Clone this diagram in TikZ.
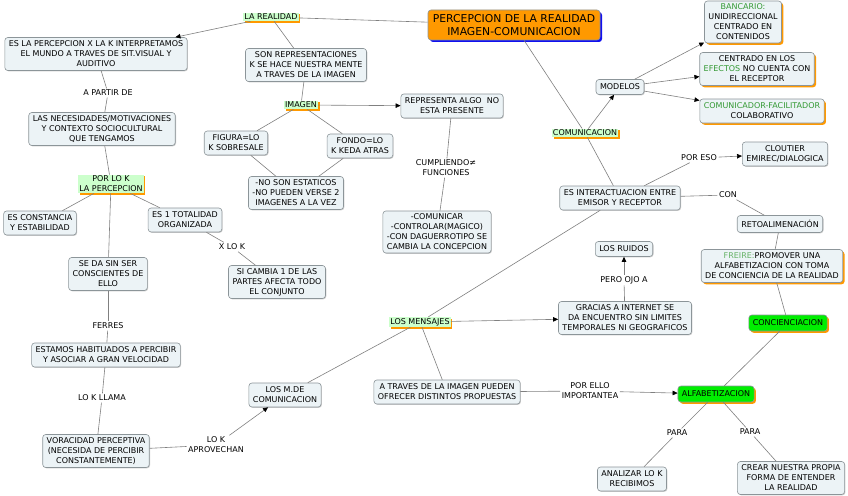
\documentclass[tikz,border=0pt]{standalone}
\usepackage{fontspec}
\setmainfont{DejaVu Sans}
\usetikzlibrary{arrows.meta,shadows}
\definecolor{cfill}{HTML}{ECF3F6}
\definecolor{cborder}{HTML}{8C9599}
\definecolor{lnc}{HTML}{808080}
\definecolor{orangeS}{HTML}{FF9900}
\definecolor{titlefill}{HTML}{FF9900}
\definecolor{blueS}{HTML}{1010F0}
\definecolor{greenlab}{HTML}{CCFFCC}
\definecolor{greenbox}{HTML}{00EE00}
\definecolor{tg}{HTML}{339933}
\definecolor{tg2}{HTML}{66B266}
\newcommand\myfs{\fontsize{8}{10}\selectfont}
\tikzset{
  concept/.style={draw=cborder, fill=cfill, rounded corners=3pt, align=center, font=\myfs,
    inner xsep=4pt, inner ysep=2pt, line width=0.6pt,
    drop shadow={shadow xshift=0.8pt, shadow yshift=-0.8pt, fill=gray!40, opacity=1}},
  one/.style={minimum height=15pt},
  two/.style={minimum height=24pt},
  three/.style={minimum height=33pt},
  four/.style={minimum height=42pt},
  oshadow/.style={drop shadow={shadow xshift=1.8pt, shadow yshift=-1.8pt, fill=orangeS, opacity=1}},
  glabel/.style={fill=greenlab, align=center, font=\myfs, inner xsep=1pt, inner ysep=1.2pt,
    drop shadow={shadow xshift=1.6pt, shadow yshift=-1.6pt, fill=orangeS, opacity=1}},
  gbox/.style={draw=cborder, fill=greenbox, rounded corners=3pt, align=center, font=\myfs,
    inner xsep=4pt, inner ysep=2pt, minimum height=16pt, line width=0.6pt,
    drop shadow={shadow xshift=1.8pt, shadow yshift=-1.8pt, fill=orangeS, opacity=1}},
  link/.style={fill=white, align=center, font=\myfs, inner sep=1.5pt},
  ln/.style={draw=lnc, line width=0.6pt},
  arr/.style={ln, -{Triangle[length=5pt,width=4.5pt,color=black]}},
}
\begin{document}
\begin{tikzpicture}[x=1pt,y=-1pt]
\fill[white] (0,0) rectangle (848,495);
\useasboundingbox (0,0) rectangle (848,495);

% nodes
\node[draw=cborder, fill=titlefill, rounded corners=3pt, align=center,
  font=\fontsize{10.8}{13}\selectfont, inner xsep=4pt, minimum height=30pt, minimum width=172pt, line width=0.6pt,
  drop shadow={shadow xshift=2pt, shadow yshift=-2pt, fill=blueS, opacity=1}]
  (title) at (514,25) {PERCEPCION DE LA REALIDAD\\IMAGEN-COMUNICACION};
\node[glabel] (realidad) at (271,17) {LA REALIDAD};
\node[concept,three] (perc) at (96,54) {ES LA PERCEPCION X LA K INTERPRETAMOS\\EL MUNDO A TRAVES DE SIT.VISUAL Y\\AUDITIVO};
\node[concept,three] (sonrep) at (306,65) {SON REPRESENTACIONES\\K SE HACE NUESTRA MENTE\\A TRAVES DE LA IMAGEN};
\node[glabel] (imagen) at (301,105) {IMAGEN};
\node[concept,two] (representa) at (452,106) {REPRESENTA ALGO\ \ NO\\ESTA PRESENTE};
\node[concept,two] (figura) at (236,143) {FIGURA=LO\\K SOBRESALE};
\node[concept,two] (fondo) at (360,146) {FONDO=LO\\K KEDA ATRAS};
\node[concept,three] (noson) at (296,193) {-NO SON ESTATICOS\\-NO PUEDEN VERSE 2\\IMAGENES A LA VEZ};
\node[link] (cumpl) at (446,168) {CUMPLIENDO≠\\FUNCIONES};
\node[concept,four] (comunicar) at (437,232) {-COMUNICAR\\-CONTROLAR(MAGICO)\\-CON DAGUERROTIPO SE\\CAMBIA LA CONCEPCION};
\node[link] (apartir) at (108,93) {A PARTIR DE};
\node[concept,three] (necesid) at (102,129) {LAS NECESIDADES/MOTIVACIONES\\Y CONTEXTO SOCIOCULTURAL\\QUE TENGAMOS};
\node[glabel] (porlok) at (111,184) {POR LO K\\LA PERCEPCION};
\node[concept,two] (constancia) at (40,223) {ES CONSTANCIA\\Y ESTABILIDAD};
\node[concept,two] (totalidad) at (185,220) {ES 1 TOTALIDAD\\ORGANIZADA};
\node[link] (xlok) at (232,247) {X LO K};
\node[concept,three] (sicambia) at (277,282) {SI CAMBIA 1 DE LAS\\PARTES AFECTA TODO\\EL CONJUNTO};
\node[concept,three] (sedasin) at (108,274) {SE DA SIN SER\\CONSCIENTES DE\\ELLO};
\node[link] (ferres) at (108,326) {FERRES};
\node[concept,two] (estamos) at (106,355) {ESTAMOS HABITUADOS A PERCIBIR\\Y ASOCIAR A GRAN VELOCIDAD};
\node[link] (lokllama) at (102,398) {LO K LLAMA};
\node[concept,three] (voracidad) at (96,451) {VORACIDAD PERCEPTIVA\\(NECESIDA DE PERCIBIR\\CONSTANTEMENTE)};
\node[link] (aprovechan) at (216,445) {LO K\\APROVECHAN};
\node[concept,two] (mdecom) at (285,395) {LOS M.DE\\COMUNICACION};
\node[glabel] (mensajes) at (420,322) {LOS MENSAJES};
\node[concept,two] (atraves) at (447,392) {A TRAVES DE LA IMAGEN PUEDEN\\OFRECER DISTINTOS PROPUESTAS};
\node[link] (porello) at (590,391) {POR ELLO\\IMPORTANTEA};
\node[gbox] (alfa) at (716,394) {ALFABETIZACION};
\node[link] (para1) at (677,433) {PARA};
\node[link] (para2) at (750,432) {PARA};
\node[concept,two] (analizar) at (632,479) {ANALIZAR LO K\\RECIBIMOS};
\node[concept,three] (crear) at (791,478) {CREAR NUESTRA PROPIA\\FORMA DE ENTENDER\\LA REALIDAD};
\node[gbox] (concien) at (788,323) {CONCIENCIACION};
\node[concept,three,oshadow] (freire) at (772,266) {\textcolor{tg2}{FREIRE:}PROMOVER UNA\\ALFABETIZACION CON TOMA\\DE CONCIENCIA DE LA REALIDAD};
\node[concept,one,minimum height=17pt] (retro) at (780,224) {RETOALIMENACIÓN};
\node[link] (con) at (728,195) {CON};
\node[concept,two] (interac) at (620,198) {ES INTERACTUACION ENTRE\\EMISOR Y RECEPTOR};
\node[link] (poreso) at (699,158) {POR ESO};
\node[concept,two] (cloutier) at (785,154) {CLOUTIER\\EMIREC/DIALOGICA};
\node[glabel] (comunicacion) at (585,133) {COMUNICACION};
\node[concept,one] (modelos) at (620,87) {MODELOS};
\node[concept,four,oshadow] (bancario) at (743,22) {\textcolor{tg}{BANCARIO:}\\UNIDIRECCIONAL\\CENTRADO EN\\CONTENIDOS};
\node[concept,three,oshadow] (efectos) at (757,69) {CENTRADO EN LOS\\\textcolor{tg}{EFECTOS} NO CUENTA CON\\EL RECEPTOR};
\node[concept,two,oshadow] (facilitador) at (762,111) {\textcolor{tg}{COMUNICADOR-FACILITADOR}\\COLABORATIVO};
\node[concept,one] (ruidos) at (624,249) {LOS RUIDOS};
\node[link] (perojo) at (624,280) {PERO OJO A};
\node[concept,three] (gracias) at (625,318) {GRACIAS A INTERNET SE\\DA ENCUENTRO SIN LIMITES\\TEMPORALES NI GEOGRAFICOS};

% connectors
\draw[ln] (title) -- (realidad);
\draw[arr] (realidad) -- (perc);
\draw[ln] (realidad) -- (sonrep);
\draw[ln] (sonrep) -- (imagen);
\draw[arr] (imagen) -- (representa);
\draw[ln] (imagen) -- (figura);
\draw[ln] (imagen) -- (fondo);
\draw[ln] (figura) -- (noson);
\draw[ln] (fondo) -- (noson);
\draw[ln] (representa) -- (cumpl);
\draw[ln] (cumpl) -- (comunicar);
\draw[ln] (perc) -- (apartir);
\draw[ln] (apartir) -- (necesid);
\draw[ln] (necesid) -- (porlok);
\draw[ln] (porlok) -- (constancia);
\draw[ln] (porlok) -- (totalidad);
\draw[ln] (porlok) -- (sedasin);
\draw[ln] (totalidad) -- (xlok);
\draw[ln] (xlok) -- (sicambia);
\draw[ln] (sedasin) -- (ferres);
\draw[ln] (ferres) -- (estamos);
\draw[ln] (estamos) -- (lokllama);
\draw[ln] (lokllama) -- (voracidad);
\draw[ln] (voracidad) -- (aprovechan);
\draw[arr] (aprovechan) -- (mdecom);
\draw[ln] (mdecom) -- (mensajes);
\draw[ln] (mensajes) -- (interac);
\draw[arr] (mensajes) -- (gracias);
\draw[ln] (mensajes) -- (atraves);
\draw[ln] (atraves) -- (porello);
\draw[arr] (porello) -- (alfa);
\draw[ln] (alfa) -- (para1);
\draw[ln] (para1) -- (analizar);
\draw[ln] (alfa) -- (para2);
\draw[ln] (para2) -- (crear);
\draw[ln] (concien) -- (alfa);
\draw[ln] (freire) -- (concien);
\draw[ln] (retro) -- (freire);
\draw[ln] (interac) -- (con);
\draw[ln] (con) -- (retro);
\draw[ln] (interac) -- (poreso);
\draw[arr] (poreso) -- (cloutier);
\draw[ln] (gracias) -- (perojo);
\draw[arr] (perojo) -- (ruidos);
\draw[ln] (title) -- (comunicacion);
\draw[ln] (comunicacion) -- (interac);
\draw[arr] (comunicacion) -- (modelos);
\draw[arr] (modelos) -- (bancario);
\draw[arr] (modelos) -- (efectos);
\draw[arr] (modelos) -- (facilitador);
\end{tikzpicture}
\end{document}
